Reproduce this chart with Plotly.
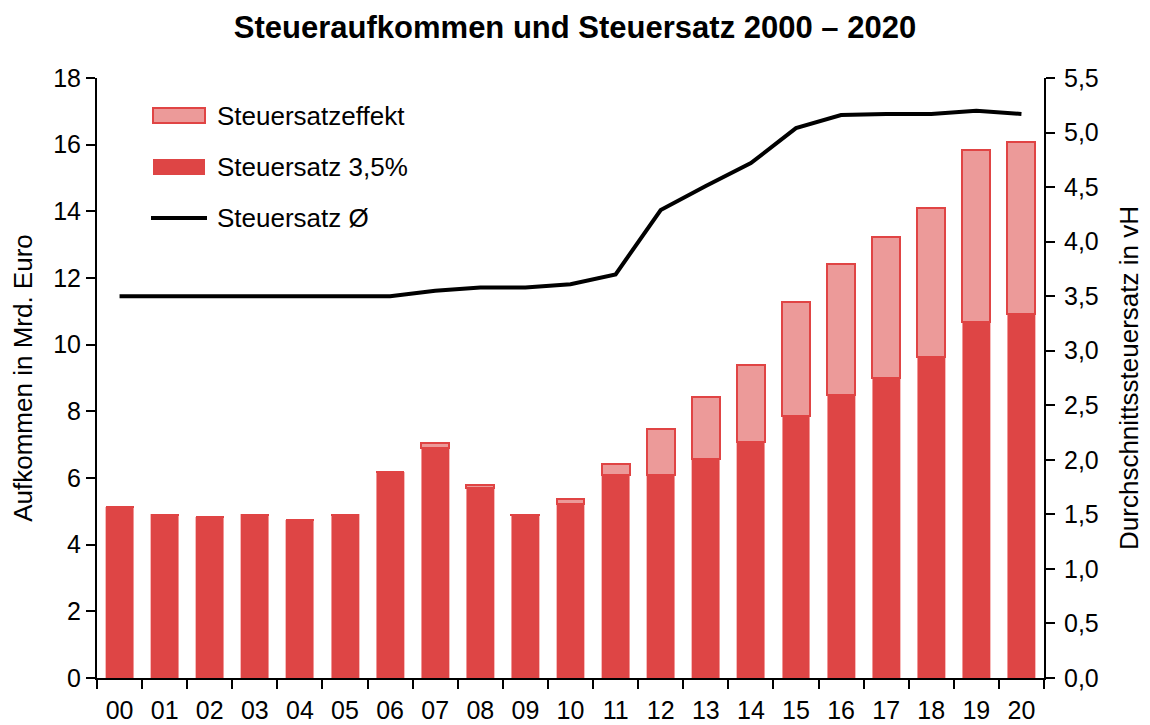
import plotly.graph_objects as go

years = ["00", "01", "02", "03", "04", "05", "06", "07", "08", "09", "10",
         "11", "12", "13", "14", "15", "16", "17", "18", "19", "20"]
# Aufkommen bei Steuersatz 3,5 % (Mrd. Euro)
basis = [5.12, 4.90, 4.82, 4.90, 4.74, 4.90, 6.18, 6.89, 5.71, 4.88, 5.22,
         6.09, 6.09, 6.57, 7.07, 7.87, 8.50, 8.99, 9.63, 10.67, 10.91]
# Gesamtaufkommen (Mrd. Euro)
gesamt = [5.12, 4.90, 4.82, 4.90, 4.74, 4.90, 6.18, 7.06, 5.78, 4.90, 5.38,
          6.41, 7.46, 8.43, 9.38, 11.29, 12.41, 13.22, 14.09, 15.84, 16.09]
effekt = [round(g - b, 2) for g, b in zip(gesamt, basis)]
# Durchschnittssteuersatz in vH
satz = [3.50, 3.50, 3.50, 3.50, 3.50, 3.50, 3.50, 3.55, 3.58, 3.58, 3.61,
        3.70, 4.29, 4.51, 4.72, 5.04, 5.16, 5.17, 5.17, 5.20, 5.17]

DARK = "#de4545"
LIGHT = "#ec9a99"
FONT = "Liberation Sans, Arial, Helvetica, sans-serif"

fig = go.Figure()
fig.add_trace(go.Bar(
    x=years, y=basis, name="Steuersatz 3,5%",
    marker=dict(color=DARK, line=dict(color="rgba(245,170,170,0.8)", width=1)),
    width=0.62, showlegend=False,
))
fig.add_trace(go.Bar(
    x=years, y=effekt, name="Steuersatzeffekt",
    marker=dict(color=LIGHT, line=dict(color="#e04444", width=2)),
    width=0.62, showlegend=False,
))
fig.add_trace(go.Scatter(
    x=years, y=satz, name="Steuersatz Ø", yaxis="y2", mode="lines",
    line=dict(color="black", width=4), showlegend=False,
))

# page offset (body margin of the html page)
OFF = 8
# plot area in page pixels
L, R, T, B = 97, 1044, 78, 678
W, H = 1150, 725


def px(x):
    return (x - L) / (R - L)


def py(y):
    return (B - y) / (B - T)


fig.add_shape(type="rect", xref="paper", yref="paper",
              x0=px(153), x1=px(205), y0=py(123), y1=py(108),
              fillcolor=LIGHT, line=dict(color="#e04444", width=2))
fig.add_shape(type="rect", xref="paper", yref="paper",
              x0=px(153), x1=px(205), y0=py(175), y1=py(159),
              fillcolor=DARK, line=dict(width=0))
fig.add_shape(type="line", xref="paper", yref="paper",
              x0=px(151), x1=px(207), y0=py(218), y1=py(218),
              line=dict(color="black", width=4))
for label, yy in [("Steuersatzeffekt", 116), ("Steuersatz 3,5%", 167), ("Steuersatz Ø", 218)]:
    fig.add_annotation(xref="paper", yref="paper", x=px(215), y=py(yy),
                       text=label, showarrow=False, xanchor="left", yanchor="middle",
                       font=dict(size=26, color="black", family=FONT))

fig.update_layout(
    width=W, height=H,
    margin=dict(l=L - OFF, r=W - (R - OFF), t=T - OFF, b=H - (B - OFF)),
    paper_bgcolor="white", plot_bgcolor="white",
    barmode="stack",
    separators=",.",
    font=dict(family=FONT, size=25, color="black"),
    title=dict(text="<b>Steueraufkommen und Steuersatz 2000 – 2020</b>",
               x=(575 - OFF) / W, xanchor="center",
               y=1 - (27 - OFF) / H, yanchor="middle",
               font=dict(size=31, family=FONT, color="black")),
    xaxis=dict(type="category", range=[-0.5, 20.5], showline=True,
               linecolor="black", linewidth=2, ticks="outside",
               tickson="boundaries", ticklen=9, tickwidth=2, tickcolor="black",
               showgrid=False, tickfont=dict(size=25), ticklabelstandoff=9,
               automargin=False),
    yaxis=dict(range=[0, 18], dtick=2, showline=True, linecolor="black",
               linewidth=2, ticks="outside", ticklen=9, tickwidth=2,
               tickcolor="black", showgrid=False, zeroline=False,
               tickfont=dict(size=25), automargin=False,
               title=dict(text="Aufkommen in Mrd. Euro", font=dict(size=26),
                          standoff=14)),
    yaxis2=dict(range=[0, 5.5], dtick=0.5, tickformat=".1f", overlaying="y",
                side="right", showline=True, linecolor="black", linewidth=2,
                ticks="outside", ticklen=9, tickwidth=2, tickcolor="black",
                showgrid=False, zeroline=False, tickfont=dict(size=25),
                ticklabelstandoff=4, automargin=False,
                title=dict(text="Durchschnittssteuersatz in vH",
                           font=dict(size=26), standoff=22)),
)

fig.write_html("out.html")
